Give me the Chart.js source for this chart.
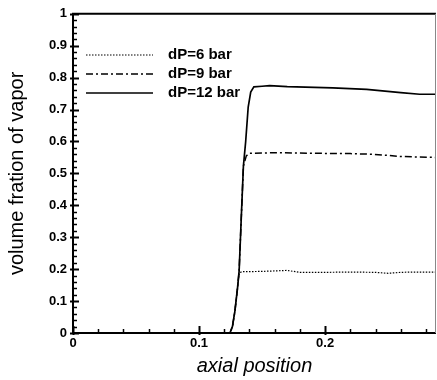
<!DOCTYPE html>
<html><head><meta charset="utf-8">
<script src="https://cdn.jsdelivr.net/npm/chart.js@4/dist/chart.umd.min.js"></script>
<style>html,body{margin:0;padding:0;background:#fff}#wrap{width:437px;height:380px;position:relative}</style>
</head><body><div id="wrap"><canvas id="c" width="437" height="380"></canvas></div>
<script>
const xTickLabels = ["0", "0.1", "0.2"];
const yTickLabels = ["0", "0.1", "0.2", "0.3", "0.4", "0.5", "0.6", "0.7", "0.8", "0.9", "1"];
const seriesNames = ["dP=6 bar", "dP=9 bar", "dP=12 bar"];

const x6 = [0, 0.1245, 0.1265, 0.1285, 0.1305, 0.1318, 0.134, 0.15, 0.17, 0.18, 0.20, 0.22, 0.24, 0.25, 0.26, 0.27, 0.288];
const y6 = [0, 0, 0.02, 0.07, 0.14, 0.188, 0.192, 0.193, 0.196, 0.190, 0.190, 0.191, 0.190, 0.187, 0.190, 0.191, 0.191];

const x9 = [0, 0.1245, 0.1265, 0.1285, 0.1305, 0.1318, 0.1335, 0.1352, 0.1375, 0.140, 0.15, 0.164, 0.19, 0.22, 0.238, 0.26, 0.275, 0.288];
const y9 = [0, 0, 0.02, 0.07, 0.14, 0.194, 0.36, 0.523, 0.555, 0.563, 0.564, 0.565, 0.563, 0.562, 0.560, 0.553, 0.551, 0.550];

const x12 = [0, 0.1245, 0.1265, 0.1285, 0.1305, 0.1318, 0.1335, 0.1352, 0.137, 0.139, 0.141, 0.1435, 0.150, 0.156, 0.170, 0.206, 0.233, 0.26, 0.275, 0.288];
const y12 = [0, 0, 0.02, 0.07, 0.14, 0.194, 0.36, 0.523, 0.60, 0.708, 0.755, 0.771, 0.773, 0.775, 0.772, 0.768, 0.763, 0.753, 0.748, 0.748];

function pts(xs, ys) { return xs.map((x, i) => ({x: x, y: ys[i]})); }

const FONT = "'Liberation Sans', Arial, sans-serif";

const frameAndTicks = {
  id: 'frameAndTicks',
  afterDraw(chart) {
    const ctx = chart.ctx, a = chart.chartArea;
    const xs = chart.scales.x, ys = chart.scales.y;
    ctx.save();
    ctx.strokeStyle = '#000';
    ctx.lineWidth = 2;
    ctx.beginPath();
    ctx.moveTo(a.left, a.bottom); ctx.lineTo(a.left, a.top); ctx.lineTo(a.right, a.top);
    ctx.moveTo(a.left, a.bottom); ctx.lineTo(a.right, a.bottom);
    ctx.stroke();
    ctx.lineWidth = 1;
    ctx.strokeStyle = '#888';
    ctx.beginPath(); ctx.moveTo(a.right - 0.5, a.top); ctx.lineTo(a.right - 0.5, a.bottom); ctx.stroke();
    ctx.strokeStyle = '#000';
    for (let i = 0; i <= 50; i++) {
      const v = i * 0.02;
      const p = Math.round(ys.getPixelForValue(v)) + 0.5;
      const major = i % 5 === 0;
      ctx.lineWidth = major ? 2 : 1.5;
      ctx.beginPath();
      ctx.moveTo(a.left - (major ? 3 : 0), p);
      ctx.lineTo(a.left + (major ? 6 : 4), p);
      ctx.stroke();
    }
    for (let i = 0; i <= 14; i++) {
      const v = i * 0.02;
      const p = Math.round(xs.getPixelForValue(v)) + 0.5;
      if (p > a.right) continue;
      const major = i % 5 === 0;
      ctx.lineWidth = major ? 2 : 1.5;
      ctx.beginPath();
      ctx.moveTo(p, a.bottom + (major ? 2 : 0));
      ctx.lineTo(p, a.bottom - (major ? 7 : 4));
      ctx.stroke();
    }
    const items = chart.data.datasets;
    const ly = [55, 74, 93];
    ctx.font = "bold 15px " + FONT;
    ctx.fillStyle = '#000';
    ctx.textBaseline = 'middle';
    items.forEach((d, i) => {
      ctx.lineWidth = d.borderWidth;
      ctx.setLineDash(d.borderDash || []);
      ctx.beginPath();
      ctx.moveTo(86, ly[i]); ctx.lineTo(153, ly[i]);
      ctx.stroke();
      ctx.setLineDash([]);
      ctx.fillText(d.label, 168, ly[i]);
    });
    ctx.restore();
  }
};

new Chart(document.getElementById('c'), {
  type: 'line',
  data: {
    datasets: [
      {label: seriesNames[0], data: pts(x6, y6), borderColor: '#000', borderWidth: 1.2, borderDash: [1.5, 1.5], pointRadius: 0, tension: 0, fill: false},
      {label: seriesNames[1], data: pts(x9, y9), borderColor: '#000', borderWidth: 1.5, borderDash: [7, 3, 2, 3], pointRadius: 0, tension: 0, fill: false},
      {label: seriesNames[2], data: pts(x12, y12), borderColor: '#000', borderWidth: 1.7, pointRadius: 0, tension: 0, fill: false}
    ]
  },
  options: {
    responsive: false,
    animation: false,
    devicePixelRatio: 1,
    layout: {padding: {top: 8, right: 1, left: 0, bottom: 0}},
    plugins: {legend: {display: false}, tooltip: {enabled: false}},
    scales: {
      x: {
        type: 'linear', min: 0, max: 0.288,
        afterBuildTicks(s) { s.ticks = xTickLabels.map(t => ({value: parseFloat(t)})); },
        afterFit(s) { s.height = 47; },
        grid: {display: false, drawTicks: false},
        border: {display: false},
        ticks: {
          padding: 3, maxRotation: 0, autoSkip: false, color: '#000',
          font: {family: FONT, size: 13, weight: 'bold'},
          callback: (v) => { const i = xTickLabels.findIndex(t => parseFloat(t) === v); return i >= 0 ? xTickLabels[i] : ''; }
        },
        title: {display: true, text: 'axial position', color: '#000', padding: {top: 0, bottom: 2},
          font: {family: FONT, size: 20, style: 'italic'}}
      },
      y: {
        type: 'linear', min: 0, max: 1,
        afterBuildTicks(s) { s.ticks = yTickLabels.map(t => ({value: parseFloat(t)})); },
        afterFit(s) { s.width = 73; },
        grid: {display: false, drawTicks: false},
        border: {display: false},
        ticks: {
          padding: 6, color: '#000', autoSkip: false,
          font: {family: FONT, size: 13, weight: 'bold'},
          callback: (v) => { const i = yTickLabels.findIndex(t => Math.abs(parseFloat(t) - v) < 1e-9); return i >= 0 ? yTickLabels[i] : ''; }
        },
        title: {display: true, text: 'volume fration of vapor', color: '#000', padding: {top: 5, bottom: 0},
          font: {family: FONT, size: 20}}
      }
    }
  },
  plugins: [frameAndTicks]
});
</script>
</body></html>
